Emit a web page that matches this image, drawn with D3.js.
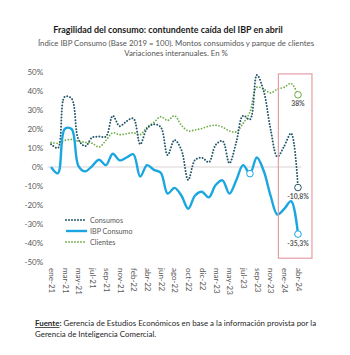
<!DOCTYPE html>
<html>
<head>
<meta charset="utf-8">
<script src="https://cdn.jsdelivr.net/npm/d3@7"></script>
<style>
  body { margin: 0; background: #fff; }
  text { font-family: Lato, "Open Sans", sans-serif; }
</style>
</head>
<body>
<div id="chart"></div>
<script>
// categories (meses; etiqueta cada dos)
var meses = ['ene-21','feb-21','mar-21','abr-21','may-21','jun-21','jul-21','ago-21','sep-21','oct-21',
    'nov-21','dic-21','feb-22','mar-22','abr-22','may-22','jun-22','jul-22','ago-22','sep-22',
    'oct-22','nov-22','dic-22','feb-23','mar-23','abr-23','may-23','jun-23','jul-23','ago-23',
    'sep-23','oct-23','nov-23','dic-23','ene-24','mar-24','abr-24'];

var ibp = [0, -3.3, 20, 20, 0.5, -2.3, 0.5, 3.8, 1, 7,
    3.5, 5, 6.7, -5, 1, -1.5, -3, -14, -11, -15,
    -22, -15, -13, -16, -9.5, -7, -14, -7, 1, -3.5,
    5, -2, -15, -25, -22, -18, -35.3];

var consumos = [12, 10, 37, 36, 14.5, 11, 15.5, 16, 16, 27,
    21.5, 24, 25.6, 12, 20.3, 22.5, 21, 6.3, 14.2, 9,
    -6.8, 3.7, 4.9, 2.5, 11.6, 13.7, 2, 13, 27, 25,
    48.4, 40, 20, 5.4, 11, 17.7, -10.8];

var clientes = [13, 12.5, 14, 14.5, 13.5, 13, 12.5, 10.5, 14, 18,
    17, 17.5, 18, 17, 21, 23.5, 26.5, 24.5, 27, 22,
    19, 19.5, 20.3, 21.5, 22, 21, 19, 18.5, 23, 29,
    42, 41, 39, 41, 42, 44, 38];

var y_ticks = [50, 40, 30, 20, 10, 0, -10, -20, -30, -40, -50];
var ultimos = ['38%', '-10,8%', '-35,3%'];

var width = 350;
var height = 355;

var svg = d3.select('#chart')
    .append('svg')
    .attr('width', width)
    .attr('height', height);

// titles
svg.append('text')
    .attr('x', 168).attr('y', 33)
    .attr('text-anchor', 'middle')
    .attr('font-size', 8.9)
    .attr('font-weight', 'bold')
    .attr('fill', '#1a1a1a')
    .text('Fragilidad del consumo: contundente caída del IBP en abril');

svg.append('text')
    .attr('x', 176).attr('y', 46)
    .attr('text-anchor', 'middle')
    .attr('font-size', 7.8)
    .attr('fill', '#555')
    .text('Índice IBP Consumo (Base 2019 = 100). Montos consumidos y parque de clientes');

svg.append('text')
    .attr('x', 176).attr('y', 55.5)
    .attr('text-anchor', 'middle')
    .attr('font-size', 7.8)
    .attr('fill', '#555')
    .text('Variaciones interanuales. En %');

//Create scales
var x_scale = d3.scalePoint()
    .domain(meses)
    .range([47.6, 301.4])
    .padding(0.5);

var y_scale = d3.scaleLinear()
    .domain([-50, 50])
    .range([262, 72]);

// y axis
var y_axis = d3.axisLeft(y_scale)
    .tickValues(y_ticks)
    .tickSize(0)
    .tickPadding(4.5)
    .tickFormat(function(d) { return d + '%'; });

var gy = svg.append('g')
    .attr('transform', 'translate(47.6,0)')
    .call(y_axis);
gy.select('.domain').remove();
gy.selectAll('text')
    .attr('font-size', 8)
    .attr('fill', '#595959');

// zero line
svg.append('line')
    .attr('x1', 47.6).attr('x2', 301.4)
    .attr('y1', y_scale(0)).attr('y2', y_scale(0))
    .attr('stroke', '#dcd3d3')
    .attr('stroke-width', 1);

// x labels (every other category)
var x_axis = d3.axisBottom(x_scale)
    .tickValues(meses.filter(function(d, i) { return i % 2 === 0; }))
    .tickSize(0)
    .tickPadding(0);

var gx = svg.append('g')
    .attr('transform', 'translate(0,' + y_scale(-50) + ')')
    .call(x_axis);
gx.select('.domain').remove();
gx.selectAll('text')
    .attr('font-size', 8)
    .attr('fill', '#595959')
    .attr('text-anchor', 'start')
    .attr('dy', '0.32em')
    .attr('transform', 'translate(0,6) rotate(90)')
    .attr('y', 0)
    .attr('x', 0);

// lines
var line = d3.line()
    .x(function(d, i) { return x_scale(meses[i]); })
    .y(function(d) { return y_scale(d); })
    .curve(d3.curveCatmullRom.alpha(0.5));

svg.append('path')
    .datum(clientes)
    .attr('d', line)
    .attr('fill', 'none')
    .attr('stroke', '#70ad47')
    .attr('stroke-width', 1.8)
    .attr('stroke-linecap', 'round')
    .attr('stroke-dasharray', '0,3');

svg.append('path')
    .datum(consumos)
    .attr('d', line)
    .attr('fill', 'none')
    .attr('stroke', '#23566a')
    .attr('stroke-width', 2)
    .attr('stroke-linecap', 'round')
    .attr('stroke-dasharray', '0,3');

svg.append('path')
    .datum(ibp)
    .attr('d', line)
    .attr('fill', 'none')
    .attr('stroke', '#1aa6e0')
    .attr('stroke-width', 2.4);

// markers
var last = meses.length - 1;
var marcas = [
    {v: clientes[last], c: '#70ad47', i: last},
    {v: consumos[last], c: '#23566a', i: last},
    {v: ibp[last], c: '#1aa6e0', i: last},
    {v: ibp[29], c: '#1aa6e0', i: 29}
];
svg.selectAll('circle.marca')
    .data(marcas)
    .enter()
    .append('circle')
    .attr('class', 'marca')
    .attr('cx', function(d) { return x_scale(meses[d.i]); })
    .attr('cy', function(d) { return y_scale(d.v); })
    .attr('r', 3.3)
    .attr('fill', 'white')
    .attr('stroke', function(d) { return d.c; })
    .attr('stroke-width', 1);

svg.selectAll('text.ult')
    .data(marcas.slice(0, 3))
    .enter()
    .append('text')
    .attr('class', 'ult')
    .attr('x', function(d) { return x_scale(meses[d.i]); })
    .attr('y', function(d) { return y_scale(d.v) + 11.5; })
    .attr('text-anchor', 'middle')
    .attr('font-size', 6.8)
    .attr('font-weight', 'bold')
    .attr('fill', '#595959')
    .text(function(d, i) { return ultimos[i]; });

// highlight box
svg.append('rect')
    .attr('x', x_scale(meses[33]) + 1)
    .attr('y', y_scale(49))
    .attr('width', x_scale(meses[last]) + 14 - x_scale(meses[33]) - 1)
    .attr('height', y_scale(-48) - y_scale(49))
    .attr('fill', 'none')
    .attr('stroke', '#e49ea6')
    .attr('stroke-width', 1.2);

// legend
var legend = [
    {name: 'Consumos', c: '#23566a', dash: '0,3', w: 2},
    {name: 'IBP Consumo', c: '#1aa6e0', dash: null, w: 2.4},
    {name: 'Clientes', c: '#70ad47', dash: '0,3', w: 1.8}
];
var lg = svg.selectAll('g.leg')
    .data(legend)
    .enter()
    .append('g')
    .attr('class', 'leg')
    .attr('transform', function(d, i) { return 'translate(66,' + (220 + i * 11) + ')'; });
lg.append('line')
    .attr('x1', 0).attr('x2', 21)
    .attr('stroke', function(d) { return d.c; })
    .attr('stroke-width', function(d) { return d.w; })
    .attr('stroke-linecap', function(d) { return d.dash ? 'round' : 'butt'; })
    .attr('stroke-dasharray', function(d) { return d.dash; });
lg.append('text')
    .attr('x', 24)
    .attr('dy', '0.35em')
    .attr('font-size', 7.2)
    .attr('fill', '#595959')
    .text(function(d) { return d.name; });

// source
var src = svg.append('text')
    .attr('x', 35).attr('y', 326)
    .attr('font-size', 7.9)
    .attr('fill', '#262626');
src.append('tspan')
    .attr('font-weight', 'bold')
    .attr('text-decoration', 'underline')
    .text('Fuente');
src.append('tspan')
    .attr('font-weight', 'bold')
    .text(':');
src.append('tspan')
    .text(' Gerencia de Estudios Económicos en base a la información provista por la');
svg.append('text')
    .attr('x', 35).attr('y', 337)
    .attr('font-size', 7.9)
    .attr('fill', '#262626')
    .text('Gerencia de Inteligencia Comercial.');
</script>
</body>
</html>
